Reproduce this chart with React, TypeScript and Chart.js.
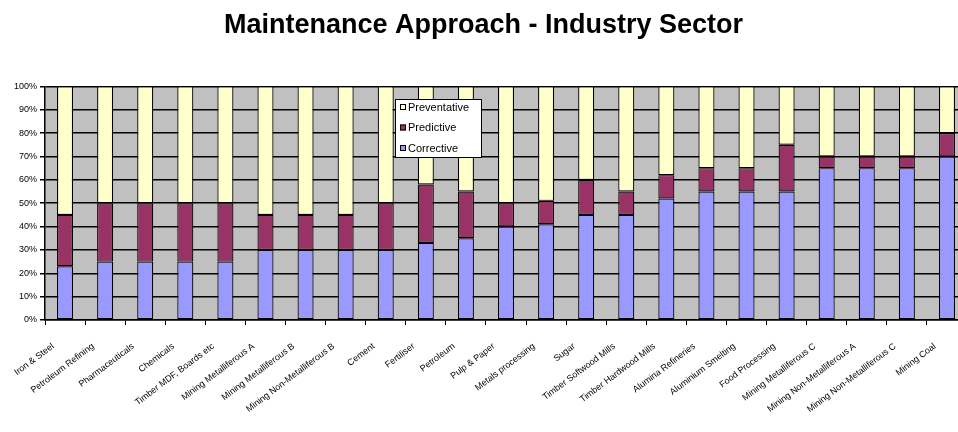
import React, { useEffect, useRef } from "react";
import { Chart, registerables } from "chart.js";

Chart.register(...registerables);

const chartTitle = "Maintenance Approach - Industry Sector";

const categories = [
  "Iron & Steel",
  "Petroleum Refining",
  "Pharmaceuticals",
  "Chemicals",
  "Timber MDF, Boards etc",
  "Mining Metalliferous A",
  "Mining Metalliferous B",
  "Mining Non-Metalliferous B",
  "Cement",
  "Fertiliser",
  "Petroleum",
  "Pulp & Paper",
  "Metals processing",
  "Sugar",
  "Timber Softwood Mills",
  "Timber Hardwood Mills",
  "Alumina Refineries",
  "Aluminium Smelting",
  "Food Processing",
  "Mining Metalliferous C",
  "Mining Non-Metalliferous A",
  "Mining Non-Metalliferous C",
  "Mining Coal",
];

const corrective = [23, 25, 25, 25, 25, 30, 30, 30, 30, 33, 35, 40, 41, 45, 45, 52, 55, 55, 55, 65, 65, 65, 70];
const predictive = [22, 25, 25, 25, 25, 15, 15, 15, 20, 25, 20, 10, 10, 15, 10, 10, 10, 10, 20, 5, 5, 5, 10];
const preventative = [55, 50, 50, 50, 50, 55, 55, 55, 50, 42, 45, 50, 49, 40, 45, 38, 35, 35, 25, 30, 30, 30, 20];

const seriesNames = ["Corrective", "Predictive", "Preventative"];
const seriesColors = ["#9999FF", "#993366", "#FFFFCC"];

const FONT = "'Liberation Sans', Arial, sans-serif";

const plotBackground = {
  id: "plotBackground",
  beforeDraw(chart: any) {
    const { ctx, chartArea } = chart;
    if (!chartArea) return;
    ctx.save();
    ctx.fillStyle = "#C0C0C0";
    ctx.fillRect(chartArea.left, chartArea.top, chartArea.right - chartArea.left, chartArea.bottom - chartArea.top);
    ctx.restore();
  },
};

const boxLegend = {
  id: "boxLegend",
  afterDraw(chart: any) {
    const { ctx } = chart;
    const x = 395;
    const y = 99;
    const w = 87;
    const h = 59;
    ctx.save();
    ctx.fillStyle = "#FFFFFF";
    ctx.fillRect(x, y, w, h);
    ctx.strokeStyle = "#000000";
    ctx.lineWidth = 1;
    ctx.strokeRect(x + 0.5, y + 0.5, w - 1, h - 1);
    const items = chart.data.datasets.slice().reverse();
    ctx.font = `11px ${FONT}`;
    ctx.textBaseline = "middle";
    ctx.textAlign = "left";
    items.forEach((ds: any, i: number) => {
      const cy = y + 8 + i * 20.5;
      ctx.fillStyle = ds.backgroundColor;
      ctx.fillRect(x + 5, cy - 3, 6, 6);
      ctx.strokeStyle = "#000";
      ctx.strokeRect(x + 5.5, cy - 2.5, 5, 5);
      ctx.fillStyle = "#000";
      ctx.fillText(ds.label, x + 13, cy + 0.5);
    });
    ctx.restore();
  },
};

export default function App() {
  const canvasRef = useRef<HTMLCanvasElement | null>(null);

  useEffect(() => {
    if (!canvasRef.current) return;
    const values = [corrective, predictive, preventative];
    const chart = new Chart(canvasRef.current, {
      type: "bar",
      data: {
        labels: categories,
        datasets: values.map((v, i) => ({
          label: seriesNames[i],
          data: v,
          backgroundColor: seriesColors[i],
          borderColor: "#000000",
          borderWidth: 1.2,
          borderSkipped: false,
          barPercentage: 0.4,
          categoryPercentage: 1,
        })),
      },
      options: {
        animation: false,
        responsive: false,
        devicePixelRatio: 1,
        layout: { padding: { left: 0, right: 3, top: 0, bottom: 0 } },
        plugins: {
          legend: { display: false },
          tooltip: { enabled: false },
          title: {
            display: true,
            text: chartTitle,
            color: "#000",
            font: { family: FONT, size: 27, weight: "bold" },
            padding: { top: 9, bottom: 45 },
          },
        },
        scales: {
          x: {
            stacked: true,
            offset: true,
            afterFit: (scale: any) => {
              scale.height = 112;
            },
            grid: {
              offset: true,
              drawOnChartArea: false,
              drawTicks: true,
              tickLength: 5,
              color: "#000",
            },
            border: { color: "#000", width: 1.5 },
            ticks: {
              autoSkip: false,
              minRotation: 37,
              maxRotation: 37,
              labelOffset: -12,
              padding: 16,
              color: "#000",
              font: { family: FONT, size: 9 },
            },
          },
          y: {
            stacked: true,
            min: 0,
            max: 100,
            afterFit: (scale: any) => {
              scale.width = 45;
            },
            grid: {
              color: "#000",
              lineWidth: 1.5,
              tickLength: 5,
            },
            border: { color: "#000", width: 1.5 },
            ticks: {
              stepSize: 10,
              padding: 3,
              color: "#000",
              font: { family: FONT, size: 9 },
              callback: (v: any) => `${v}%`,
            },
          },
        },
      },
      plugins: [plotBackground, boxLegend],
    });
    return () => chart.destroy();
  }, []);

  return (
    <div
      style={{
        position: "absolute",
        left: 0,
        top: 0,
        width: 958,
        height: 432,
        overflow: "hidden",
        background: "#fff",
      }}
    >
      <canvas ref={canvasRef} width={970} height={432} style={{ display: "block" }} />
    </div>
  );
}
